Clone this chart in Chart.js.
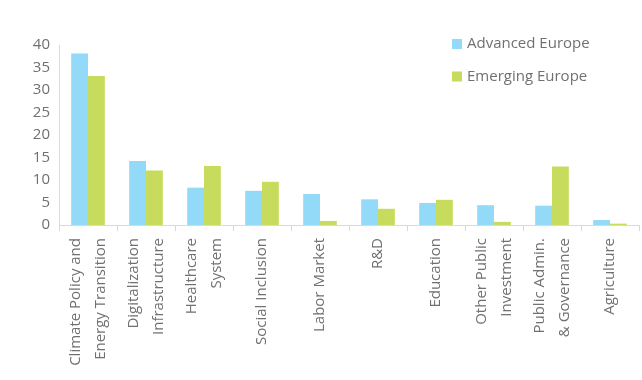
<!DOCTYPE html>
<html>
<head>
<meta charset="utf-8">
<script src="https://cdn.jsdelivr.net/npm/chart.js@4.4.0/dist/chart.umd.min.js"></script>
<style>
  html, body { margin: 0; padding: 0; background: #ffffff; }
  #wrap { width: 642px; height: 380px; position: relative; }
</style>
</head>
<body>
<div id="wrap"><canvas id="c" width="642" height="380"></canvas></div>
<script>
const categories = [
  ["Climate Policy and", "Energy Transition"],
  ["Digitalization", "Infrastructure"],
  ["Healthcare", "System"],
  ["Social Inclusion"],
  ["Labor Market"],
  ["R&D"],
  ["Education"],
  ["Other Public", "Investment"],
  ["Public Admin.", "& Governance"],
  ["Agriculture"]
];
const advancedEurope = [38.1, 14.2, 8.3, 7.6, 6.9, 5.7, 4.9, 4.4, 4.3, 1.1];
const emergingEurope = [33.1, 12.1, 13.1, 9.6, 0.9, 3.6, 5.6, 0.7, 13.0, 0.3];
const yTicks = [0, 5, 10, 15, 20, 25, 30, 35, 40];
const seriesNames = ["Advanced Europe", "Emerging Europe"];
const seriesColors = ["#93DAF8", "#C7DB5C"];

const FONT = "'Open Sans', 'Noto Sans', sans-serif";
const TEXT = "#707070";
const AXIS = "#d9d9d9";

const xLabelPlugin = {
  id: 'xLabels',
  afterDraw(chart) {
    const ctx = chart.ctx;
    const xs = chart.scales.x;
    const top = xs.top + 13;
    const lh = 24.5;
    ctx.save();
    ctx.fillStyle = TEXT;
    ctx.font = "15px " + FONT;
    categories.forEach((lines, i) => {
      const px = xs.getPixelForTick(i);
      const n = lines.length;
      lines.forEach((ln, j) => {
        const cx = px + (j - (n - 1) / 2) * lh;
        ctx.save();
        ctx.translate(cx, top);
        ctx.rotate(-Math.PI / 2);
        ctx.textAlign = 'right';
        ctx.textBaseline = 'middle';
        ctx.fillText(ln, 0, 0);
        ctx.restore();
      });
    });
    ctx.restore();
  }
};

const legendPlugin = {
  id: 'customLegend',
  afterDraw(chart) {
    const ctx = chart.ctx;
    const x0 = 452, y0 = 39, box = 10, gap = 32.5;
    ctx.save();
    ctx.font = "15px " + FONT;
    ctx.textBaseline = 'middle';
    ctx.textAlign = 'left';
    chart.data.datasets.forEach((ds, i) => {
      const y = y0 + i * gap;
      ctx.fillStyle = ds.backgroundColor;
      ctx.fillRect(x0, y, box, box);
      ctx.fillStyle = TEXT;
      ctx.fillText(ds.label, x0 + 15, y + box / 2);
    });
    ctx.restore();
  }
};

new Chart(document.getElementById('c'), {
  type: 'bar',
  data: {
    labels: categories.map(l => l.join(' ')),
    datasets: [
      { label: seriesNames[0], data: advancedEurope, backgroundColor: seriesColors[0], borderWidth: 0 },
      { label: seriesNames[1], data: emergingEurope, backgroundColor: seriesColors[1], borderWidth: 0 }
    ]
  },
  options: {
    responsive: false,
    animation: false,
    devicePixelRatio: 1,
    layout: { padding: { top: 45, right: 3, left: 0, bottom: 0 } },
    plugins: { legend: { display: false }, tooltip: { enabled: false } },
    datasets: { bar: { categoryPercentage: 0.58, barPercentage: 1.0 } },
    scales: {
      x: {
        offset: true,
        grid: { display: true, offset: true, drawOnChartArea: false, drawTicks: true, tickLength: 6, color: AXIS, lineWidth: 1 },
        border: { display: true, color: AXIS, width: 1 },
        ticks: { display: false },
        afterFit(scale) { scale.height = 155; }
      },
      y: {
        min: 0, max: 40,
        afterBuildTicks(scale) { scale.ticks = yTicks.map(v => ({ value: v })); },
        grid: { display: false, drawTicks: false },
        border: { display: true, color: AXIS, width: 1 },
        ticks: { color: TEXT, font: { family: FONT, size: 15 }, padding: 9 },
        afterFit(scale) { scale.width = 59; }
      }
    }
  },
  plugins: [xLabelPlugin, legendPlugin]
});
</script>
</body>
</html>
